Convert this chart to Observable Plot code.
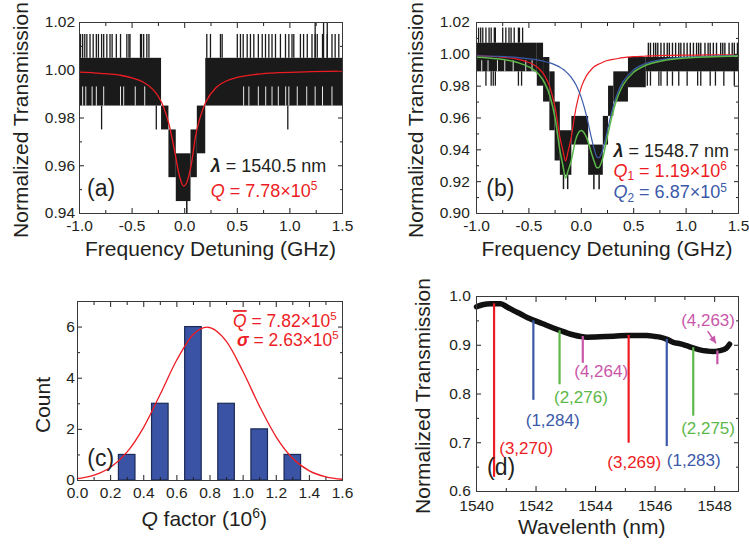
<!DOCTYPE html>
<html><head><meta charset="utf-8">
<script src="https://cdn.jsdelivr.net/npm/d3@7"></script>
<script src="https://cdn.jsdelivr.net/npm/@observablehq/plot@0.6"></script>
<style>
body{margin:0;background:#fff;}
#wrap{position:relative;width:749px;height:544px;overflow:hidden;background:#fff;}
#wrap svg{position:absolute;left:0;top:0;}
</style></head><body><div id="wrap"></div>
<script>
// ---------- Panel (a) data ----------
const aFitX = [-1.0,-0.8,-0.6,-0.5,-0.4,-0.3,-0.25,-0.2,-0.15,-0.1,-0.05,-0.01,0.03,0.07,0.1,0.15,0.2,0.3,0.4,0.5,0.7,0.9,1.2,1.5];
const aFitY = [0.9992,0.9987,0.9978,0.9968,0.9952,0.9919,0.9890,0.9845,0.9775,0.9672,0.9557,0.9515,0.9543,0.9625,0.9717,0.9807,0.9866,0.9928,0.9956,0.9970,0.9984,0.9990,0.9994,0.9996];
const aBandX1 = [-1.0,-0.22,-0.15,-0.08,0.06,0.12,0.20];
const aBandX2 = [-0.22,-0.15,-0.08,0.06,0.12,0.20,1.5];
const aBandLo = [0.985,0.975,0.955,0.945,0.955,0.965,0.985];
const aBandHi = [1.005,0.985,0.975,0.965,0.975,0.985,1.005];
const aUpX = [-0.99,-0.97,-0.95,-0.93,-0.90,-0.87,-0.84,-0.82,-0.79,-0.77,-0.74,-0.71,-0.69,-0.65,-0.61,-0.55,-0.53,-0.52,-0.42,-0.41,-0.39,-0.36,-0.34,
  0.21,0.245,0.34,0.356,0.50,0.53,0.556,0.594,0.625,0.657,0.70,0.737,0.768,0.80,0.83,0.863,0.91,0.958,0.99,1.02,1.037,1.10,1.13,1.165,1.21,1.24,1.26,1.31,1.355,1.40,1.43,1.465];
const aTopX = [1.24,1.32,1.355];
const aDownX = [-0.79,-0.27,0.98];
const aDeepX = [0.02];
const aGapX = [-0.97,-0.94,-0.88,-0.84,-0.77,-0.61,-0.58,-0.47,-0.38,0.56,0.61,0.70,0.77,0.83,0.89,0.96,0.99,1.07,1.16,1.24,1.31,1.40];
const aLevels = [1.005,1.015,1.02,0.985,0.975,0.945,0.94,0.993]; // band top, spike, top spike, band bottom, low spike, dip bottom, dip spike, gap top

// ---------- Panel (b) data ----------
const bFitX   = [-1.0,-0.8,-0.6,-0.5,-0.45,-0.4,-0.35,-0.3,-0.25,-0.2,-0.175,-0.15,-0.125,-0.1,-0.05,0,0.05,0.1,0.125,0.15,0.165,0.2,0.25,0.3,0.35,0.4,0.5,0.6,0.8,1.0,1.2,1.5];
const bRedY   = [0.9991,0.9985,0.9968,0.9949,0.9933,0.9908,0.9866,0.9794,0.9665,0.9464,0.9394,0.9330,0.9394,0.9464,0.9665,0.9794,0.9866,0.9908,0.9923,0.9933,0.9938,0.9949,0.9961,0.9968,0.9974,0.9979,0.9985,0.9988,0.9993,0.9995,0.9996,0.9997];
const bBlueY  = [0.9991,0.9987,0.9979,0.9972,0.9968,0.9962,0.9955,0.9946,0.9934,0.9917,0.9906,0.9893,0.9877,0.9858,0.9807,0.9728,0.9612,0.9465,0.9400,0.9354,0.9350,0.9388,0.9525,0.9663,0.9764,0.9830,0.9903,0.9939,0.9970,0.9982,0.9988,0.9993];
const bGreenY = [0.9982,0.9972,0.9947,0.9921,0.9901,0.9870,0.9821,0.9740,0.9599,0.9381,0.9300,0.9223,0.9271,0.9322,0.9472,0.9522,0.9478,0.9373,0.9323,0.9287,0.9288,0.9337,0.9486,0.9631,0.9738,0.9809,0.9888,0.9927,0.9963,0.9977,0.9984,0.9990];
const bBandX1 = [-1.0,-0.42,-0.36,-0.30,-0.25,-0.20,-0.09,0.07,0.21,0.26,0.31,0.45,0.62];
const bBandX2 = [-0.42,-0.36,-0.30,-0.25,-0.20,-0.09,0.07,0.21,0.26,0.31,0.45,0.62,1.5];
const bBandLo = [0.989,0.980,0.970,0.952,0.933,0.924,0.943,0.924,0.943,0.961,0.970,0.979,0.989];
const bBandHi = [1.007,1.007,0.998,0.989,0.970,0.952,0.961,0.943,0.961,0.980,0.989,0.998,0.998];
const bUpLeftX = [-0.98,-0.96,-0.94,-0.91,-0.88,-0.86,-0.83,-0.82,-0.75,-0.72,-0.69,-0.67,-0.64,-0.60,-0.59,-0.56];
const bUpRightX = [0.64,0.66,0.69,0.71,0.73,0.76,0.79,0.82,0.84,0.87,0.90,0.93,0.95,0.98,1.01,1.04,1.07,1.10,1.12,1.14,1.18,1.21,1.23,1.26,1.29,1.33,1.35,1.37,1.41,1.44,1.46,1.49];
const bDownX = [-0.91,-0.86,-0.84,-0.82,-0.60,-0.57,0.63,0.66,0.74,0.76,0.82,0.87,0.93,1.01,1.11,1.14,1.23,1.28,1.36,1.46];
const bDeepX = [-0.17,-0.13,0.12,0.17];
const bGapX = [-0.95,-0.89,-0.80,-0.73,-0.65,-0.53,-0.47];
const bLevels = [1.007,1.0165,0.998,0.989,0.980,0.924,0.915,0.996];

// ---------- Panel (c) data ----------
const cBinCenters = [0.3,0.5,0.7,0.9,1.1,1.3];
const cCounts = [1,3,6,3,2,1];
const cBinWidth = 0.1;
const cGaussX = [0,0.1,0.2,0.3,0.4,0.5,0.6,0.7,0.782,0.9,1.0,1.1,1.2,1.3,1.4,1.5,1.6];
const cGaussY = [0.072,0.208,0.518,1.118,2.09,3.38,4.72,5.72,6.0,5.43,4.25,2.89,1.70,0.862,0.379,0.144,0.048];

// ---------- Panel (d) data ----------
const dWl = [1540.0,1540.2,1540.48,1540.81,1541.04,1541.25,1541.48,1541.7,1541.93,1542.15,1542.37,1542.6,1542.82,1543.05,1543.27,1543.5,1543.71,1544.0,1544.38,1544.7,1545.05,1545.4,1545.72,1546.0,1546.16,1546.4,1546.61,1546.85,1547.06,1547.3,1547.5,1547.75,1547.95,1548.17,1548.39,1548.5];
const dT  = [0.979,0.983,0.985,0.985,0.978,0.971,0.964,0.957,0.951,0.946,0.9405,0.935,0.930,0.925,0.921,0.918,0.9166,0.917,0.918,0.919,0.920,0.920,0.920,0.918,0.9166,0.912,0.906,0.903,0.899,0.894,0.8906,0.888,0.887,0.889,0.894,0.902];
const dipWl    = [1540.59,1541.91,1542.79,1543.57,1545.11,1546.39,1547.28,1548.09];
const dipTop   = [0.985,0.95,0.93,0.918,0.92,0.912,0.895,0.888];
const dipMin   = [0.629,0.787,0.819,0.863,0.699,0.692,0.7545,0.860];
const dipMode  = ["(3,270)","(1,284)","(2,276)","(4,264)","(3,269)","(1,283)","(2,275)","(4,263)"];
const dipGroup = ["r","b","g","m","r","b","g","m"];

// ---------- styling ----------
const FONT = '"Liberation Sans", Arial, Helvetica, sans-serif';
const INK = "#231f20";
const COL = {r:"#ed1c24", b:"#3a59a8", g:"#5cb848", m:"#c957a9"};
const W = 749, H = 544;

function axes(o) {
  const blank = () => "";
  return [
    Plot.axisX(o.xMajor, {anchor:"bottom", tickSize:-5, tickPadding:5+o.xOff, tickFormat:o.xFmt, label:null}),
    Plot.axisX(o.xMinor, {anchor:"bottom", tickSize:-3, tickFormat:blank, label:null}),
    Plot.axisX(o.xMajor, {anchor:"top", tickSize:-5, tickFormat:blank, label:null}),
    Plot.axisX(o.xMinor, {anchor:"top", tickSize:-3, tickFormat:blank, label:null}),
    Plot.axisY(o.yMajor, {anchor:"left", tickSize:-5, tickPadding:5+o.yOff, tickFormat:o.yFmt, label:null}),
    Plot.axisY(o.yMinor, {anchor:"left", tickSize:-3, tickFormat:blank, label:null}),
    Plot.axisY(o.yMajor, {anchor:"right", tickSize:-5, tickFormat:blank, label:null}),
    Plot.axisY(o.yMinor, {anchor:"right", tickSize:-3, tickFormat:blank, label:null}),
    Plot.frame({stroke:"#3a3a3a", strokeWidth:1})
  ];
}

function rich(svg, x, y, parts, {size=17.5, fill=INK, anchor="start", rotate=0}={}) {
  const t = d3.select(svg).append("text")
    .attr("font-family", FONT).attr("font-size", size).attr("fill", fill).attr("text-anchor", anchor);
  if (rotate) t.attr("transform", `translate(${x},${y}) rotate(${rotate})`);
  else t.attr("x", x).attr("y", y);
  let shift = 0;
  for (const p of parts) {
    const [s, st = ""] = Array.isArray(p) ? p : [p, ""];
    const tok = st.split(" ");
    const ts = t.append("tspan").text(s);
    let target = 0;
    if (tok.includes("sup")) { target = -0.38 * size; ts.attr("font-size", size * 0.66); }
    if (tok.includes("sub")) { target = 0.2 * size; ts.attr("font-size", size * 0.66); }
    if (target !== shift) { ts.attr("dy", target - shift); shift = target; }
    if (tok.includes("i")) ts.attr("font-style", "italic");
    if (tok.includes("b")) ts.attr("font-weight", "bold");
    if (tok.includes("bar")) ts.attr("text-decoration", "overline");
  }
  return t;
}

function make(opts, marks) {
  return Plot.plot({
    width: W, height: H,
    marginLeft: opts.ml, marginRight: opts.mr, marginTop: opts.mt, marginBottom: opts.mb,
    x: {domain: opts.xd, label: null},
    y: {domain: opts.yd, label: null},
    style: {fontFamily: FONT, fontSize: "15.5px", color: INK, background: "transparent", overflow: "visible"},
    marks
  });
}
const wrap = document.getElementById("wrap");
const f1 = d => d.toFixed(1), f2 = d => d.toFixed(2);
const BLK = "#1a1a1a";

// ---------- (a) ----------
const aBands = aBandX1.map((x1, i) => ({x1, x2: aBandX2[i], lo: aBandLo[i], hi: aBandHi[i]}));
const A = make({ml:79, mr:407, mt:22, mb:331, xd:[-1,1.5], yd:[0.94,1.02]}, [
  Plot.rect(aBands, {x1:"x1", x2:"x2", y1:"lo", y2:"hi", fill:BLK}),
  Plot.ruleX(aGapX, {x:d=>d, y1:aLevels[3], y2:aLevels[7], stroke:"#fff", strokeWidth:0.9}),
  Plot.ruleX(aUpX, {x:d=>d, y1:aLevels[0], y2:aLevels[1], stroke:BLK, strokeWidth:1.3}),
  Plot.ruleX(aTopX, {x:d=>d, y1:aLevels[0], y2:aLevels[2], stroke:BLK, strokeWidth:1.3}),
  Plot.ruleX(aDownX, {x:d=>d, y1:aLevels[3], y2:aLevels[4], stroke:BLK, strokeWidth:1.3}),
  Plot.ruleX(aDeepX, {x:d=>d, y1:aLevels[5], y2:aLevels[6], stroke:BLK, strokeWidth:1.5}),
  Plot.line(aFitX, {x:d=>d, y:(d,i)=>aFitY[i], stroke:COL.r, strokeWidth:1.3, curve:"monotone-x"}),
  ...axes({xMajor:[-1,-0.5,0,0.5,1,1.5], xMinor:[-0.75,-0.25,0.25,0.75,1.25], yMajor:[0.94,0.96,0.98,1.0,1.02], yMinor:[0.95,0.97,0.99,1.01], xFmt:f1, yFmt:f2, xOff:6, yOff:4.5})
]);
wrap.appendChild(A);

// ---------- (b) ----------
const bBands = bBandX1.map((x1, i) => ({x1, x2: bBandX2[i], lo: bBandLo[i], hi: bBandHi[i]}));
const B = make({ml:476, mr:11, mt:22, mb:331, xd:[-1,1.5], yd:[0.90,1.02]}, [
  Plot.rect(bBands, {x1:"x1", x2:"x2", y1:"lo", y2:"hi", fill:BLK}),
  Plot.ruleX(bGapX, {x:d=>d, y1:bLevels[3], y2:bLevels[7], stroke:"#fff", strokeWidth:0.9}),
  Plot.ruleX(bUpLeftX, {x:d=>d, y1:bLevels[0], y2:bLevels[1], stroke:BLK, strokeWidth:1.3}),
  Plot.ruleX(bUpRightX, {x:d=>d, y1:bLevels[2], y2:bLevels[0], stroke:BLK, strokeWidth:1.4}),
  Plot.ruleX(bDownX, {x:d=>d, y1:bLevels[3], y2:bLevels[4], stroke:BLK, strokeWidth:1.3}),
  Plot.ruleX(bDeepX, {x:d=>d, y1:bLevels[5], y2:bLevels[6], stroke:BLK, strokeWidth:1.5}),
  Plot.line(bFitX, {x:d=>d, y:(d,i)=>bRedY[i], stroke:COL.r, strokeWidth:1.2, curve:"monotone-x"}),
  Plot.line(bFitX, {x:d=>d, y:(d,i)=>bBlueY[i], stroke:COL.b, strokeWidth:1.2, curve:"monotone-x"}),
  Plot.line(bFitX, {x:d=>d, y:(d,i)=>bGreenY[i], stroke:COL.g, strokeWidth:1.5, curve:"monotone-x"}),
  ...axes({xMajor:[-1,-0.5,0,0.5,1,1.5], xMinor:[-0.75,-0.25,0.25,0.75,1.25], yMajor:[0.90,0.92,0.94,0.96,0.98,1.0,1.02], yMinor:[0.91,0.93,0.95,0.97,0.99,1.01], xFmt:f1, yFmt:f2, xOff:6, yOff:6.7})
]);
wrap.appendChild(B);

// ---------- (c) ----------
const C = make({ml:77, mr:407, mt:301, mb:64, xd:[0,1.6], yd:[0,7]}, [
  Plot.rectY(cBinCenters, {x1:d=>d-cBinWidth/2, x2:d=>d+cBinWidth/2, y:(d,i)=>cCounts[i], fill:"#3a53a4", stroke:"#1c2a55", strokeWidth:1.2}),
  Plot.line(cGaussX, {x:d=>d, y:(d,i)=>cGaussY[i], stroke:COL.r, strokeWidth:1.3, curve:"monotone-x"}),
  ...axes({xMajor:[0,0.2,0.4,0.6,0.8,1.0,1.2,1.4,1.6], xMinor:[0.1,0.3,0.5,0.7,0.9,1.1,1.3,1.5], yMajor:[0,2,4,6], yMinor:[1,3,5], xFmt:f1, yFmt:d=>String(d), xOff:6, yOff:2.7})
]);
wrap.appendChild(C);

// ---------- (d) ----------
const D = make({ml:476, mr:11, mt:296, mb:53, xd:[1540,1548.8], yd:[0.6,1.0]}, [
  Plot.line(dWl, {x:d=>d, y:(d,i)=>dT[i], stroke:"#111", strokeWidth:5.5, curve:"monotone-x"}),
  Plot.ruleX(dipWl, {x:d=>d, y1:(d,i)=>dipTop[i], y2:(d,i)=>dipMin[i], stroke:(d,i)=>COL[dipGroup[i]], strokeWidth:2.2}),
  ...axes({xMajor:[1540,1542,1544,1546,1548], xMinor:[1541,1543,1545,1547], yMajor:[0.6,0.7,0.8,0.9,1.0], yMinor:[0.65,0.75,0.85,0.95], xFmt:d=>String(d), yFmt:f1, xOff:8, yOff:5.7})
]);
wrap.appendChild(D);

// ---------- annotations ----------
const TS = 21;
{ const sx = A.scale("x"), sy = A.scale("y");
  rich(A, sx.apply(0.252), sy.apply(0.9573), [["λ","b i"], " = 1540.5 nm"], {size:18});
  rich(A, sx.apply(0.252), sy.apply(0.9468), [["Q","i"], " = 7.78×10", ["5","sup"]], {size:18, fill:COL.r});
  rich(A, sx.apply(-0.924), sy.apply(0.9471), ["(a)"], {size:23});
  rich(A, (sx.apply(-1)+sx.apply(1.5))/2, 256, ["Frequency Detuning (GHz)"], {size:TS, anchor:"middle"});
  rich(A, 28.3, 120, ["Normalized Transmission"], {size:TS, anchor:"middle", rotate:-90});
}
{ const sx = B.scale("x"), sy = B.scale("y");
  rich(B, sx.apply(0.312), sy.apply(0.9353), [["λ","b i"], " = 1548.7 nm"], {size:18});
  rich(B, sx.apply(0.312), sy.apply(0.9228), [["Q","i"], ["1","sub"], " = 1.19×10", ["6","sup"]], {size:18, fill:COL.r});
  rich(B, sx.apply(0.312), sy.apply(0.9092), [["Q","i"], ["2","sub"], " = 6.87×10", ["5","sup"]], {size:18, fill:COL.b});
  rich(B, sx.apply(-0.902), sy.apply(0.9107), ["(b)"], {size:23});
  rich(B, (sx.apply(-1)+sx.apply(1.5))/2, 256, ["Frequency Detuning (GHz)"], {size:TS, anchor:"middle"});
  rich(B, 423.3, 120, ["Normalized Transmission"], {size:TS, anchor:"middle", rotate:-90});
}
{ const sx = C.scale("x"), sy = C.scale("y");
  rich(C, sx.apply(0.942), sy.apply(5.98), [["Q","i bar"], " = 7.82×10", ["5","sup"]], {size:17.5, fill:COL.r});
  rich(C, sx.apply(0.966), sy.apply(5.24), [["σ","b i"], " = 2.63×10", ["5","sup"]], {size:17.5, fill:COL.r});
  rich(C, sx.apply(0.062), sy.apply(0.55), ["(c)"], {size:23});
  rich(C, 204.2, 526, [["Q","i"], " factor (10", ["6","sup"], ")"], {size:TS, anchor:"middle"});
  rich(C, 50, 405, ["Count"], {size:TS, anchor:"middle", rotate:-90});
}
{ const sx = D.scale("x"), sy = D.scale("y");
  const lx = [1540.78,1541.67,1542.62,1543.30,1544.41,1546.41,1546.89,1546.89];
  const ly = [0.676,0.733,0.781,0.833,0.648,0.651,0.717,0.938];
  dipMode.forEach((m, i) => rich(D, sx.apply(lx[i]), sy.apply(ly[i]), [m], {size:17, fill:COL[dipGroup[i]]}));
  rich(D, sx.apply(1540.37), sy.apply(0.633), ["(d)"], {size:23});
  rich(D, 591.7, 533.5, ["Wavelenth (nm)"], {size:TS, anchor:"middle"});
  rich(D, 430, 396, ["Normalized Transmission"], {size:TS, anchor:"middle", rotate:-90});
  const g = d3.select(D).append("g");
  const x1 = sx.apply(1547.78), y1 = sy.apply(0.928), x2 = sx.apply(1548.06), y2 = sy.apply(0.903);
  g.append("line").attr("x1", x1).attr("y1", y1).attr("x2", x2).attr("y2", y2).attr("stroke", COL.m).attr("stroke-width", 1.5);
  const ang = Math.atan2(y2 - y1, x2 - x1), L = 7, Wd = 3.5;
  const bx = x2 - L*Math.cos(ang), by = y2 - L*Math.sin(ang);
  g.append("path").attr("fill", COL.m).attr("d",
    `M${x2},${y2}L${bx + Wd*Math.sin(ang)},${by - Wd*Math.cos(ang)}L${bx - Wd*Math.sin(ang)},${by + Wd*Math.cos(ang)}Z`);
}
</script>
</body></html>
